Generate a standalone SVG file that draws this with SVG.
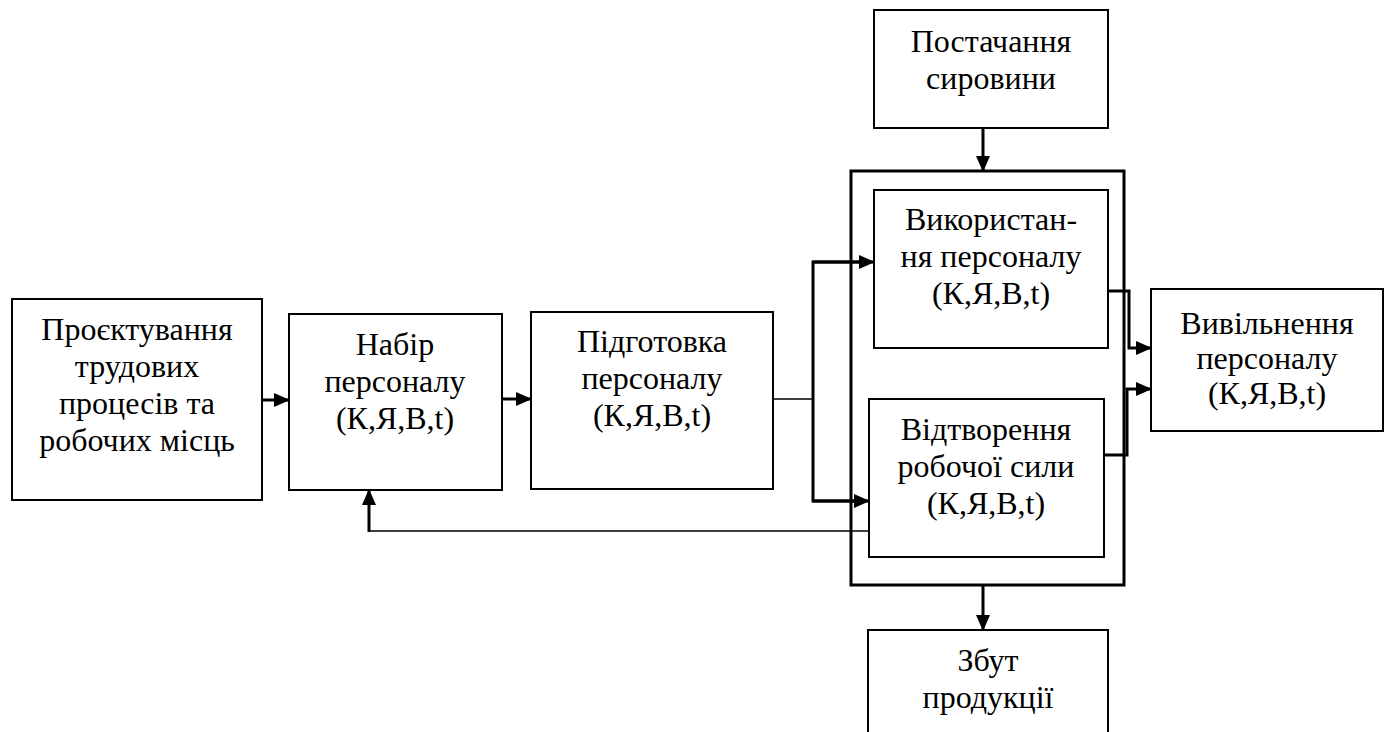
<svg xmlns="http://www.w3.org/2000/svg" width="1387" height="732" viewBox="0 0 1387 732">
<style>
.box{fill:#fff;stroke:#000;stroke-width:2}
.outer{fill:none;stroke:#000;stroke-width:3}
.thick{fill:none;stroke:#000;stroke-width:3}
.thin{fill:none;stroke:#000;stroke-width:1.5}
</style>
<defs>
<marker id="ah" markerWidth="16" markerHeight="14" refX="15" refY="7" orient="auto" markerUnits="userSpaceOnUse">
<path d="M0,0 L16,7 L0,14 Z" fill="#000"/>
</marker>
</defs>
<rect width="1387" height="732" fill="#fff"/>
<g id="outer"><rect class="outer" x="851" y="171" width="273" height="414"/></g>
<g id="n1"><rect class="box" x="12" y="299" width="250" height="201"/>
<text font-family="Liberation Serif" font-size="32" text-anchor="middle" x="137" y="340">Проєктування</text><text font-family="Liberation Serif" font-size="32" text-anchor="middle" x="137" y="377">трудових</text><text font-family="Liberation Serif" font-size="32" text-anchor="middle" x="137" y="414">процесів та</text><text font-family="Liberation Serif" font-size="32" text-anchor="middle" x="137" y="451">робочих місць</text></g>
<g id="n2"><rect class="box" x="289" y="314" width="213" height="176"/>
<text font-family="Liberation Serif" font-size="32" text-anchor="middle" x="395" y="355">Набір</text><text font-family="Liberation Serif" font-size="32" text-anchor="middle" x="395" y="392">персоналу</text><text font-family="Liberation Serif" font-size="32" text-anchor="middle" x="395" y="429">(К,Я,В,t)</text></g>
<g id="n3"><rect class="box" x="531" y="312" width="242" height="177"/>
<text font-family="Liberation Serif" font-size="32" text-anchor="middle" x="652" y="352">Підготовка</text><text font-family="Liberation Serif" font-size="32" text-anchor="middle" x="652" y="389">персоналу</text><text font-family="Liberation Serif" font-size="32" text-anchor="middle" x="652" y="426">(К,Я,В,t)</text></g>
<g id="n4"><rect class="box" x="874" y="190" width="234" height="158"/>
<text font-family="Liberation Serif" font-size="32" text-anchor="middle" x="991" y="230">Використан-</text><text font-family="Liberation Serif" font-size="32" text-anchor="middle" x="991" y="267">ня персоналу</text><text font-family="Liberation Serif" font-size="32" text-anchor="middle" x="991" y="304">(К,Я,В,t)</text></g>
<g id="n5"><rect class="box" x="869" y="399" width="235" height="158"/>
<text font-family="Liberation Serif" font-size="32" text-anchor="middle" x="986" y="440">Відтворення</text><text font-family="Liberation Serif" font-size="32" text-anchor="middle" x="986" y="477">робочої сили</text><text font-family="Liberation Serif" font-size="32" text-anchor="middle" x="986" y="514">(К,Я,В,t)</text></g>
<g id="n6"><rect class="box" x="1151" y="289" width="232" height="142"/>
<text font-family="Liberation Serif" font-size="32" text-anchor="middle" x="1267" y="334">Вивільнення</text><text font-family="Liberation Serif" font-size="32" text-anchor="middle" x="1267" y="369">персоналу</text><text font-family="Liberation Serif" font-size="32" text-anchor="middle" x="1267" y="404">(К,Я,В,t)</text></g>
<g id="n7"><rect class="box" x="874" y="10" width="234" height="118"/>
<text font-family="Liberation Serif" font-size="32" text-anchor="middle" x="991" y="52">Постачання</text><text font-family="Liberation Serif" font-size="32" text-anchor="middle" x="991" y="89">сировини</text></g>
<g id="n8"><rect class="box" x="868" y="630" width="240" height="110"/>
<text font-family="Liberation Serif" font-size="32" text-anchor="middle" x="988" y="671">Збут</text><text font-family="Liberation Serif" font-size="32" text-anchor="middle" x="988" y="708">продукції</text></g>
<g id="connectors">
<line class="thick" x1="262" y1="400" x2="289" y2="400" marker-end="url(#ah)"/>
<line class="thick" x1="502" y1="399" x2="531" y2="399" marker-end="url(#ah)"/>
<line class="thin" x1="773" y1="399" x2="813" y2="399"/>
<polyline class="thick" points="860,262 813,262 813,501 855,501"/>
<line class="thick" x1="813" y1="262" x2="874" y2="262" marker-end="url(#ah)"/>
<line class="thick" x1="813" y1="501" x2="869" y2="501" marker-end="url(#ah)"/>
<polyline class="thin" points="869,531 369,531 369,505"/>
<line class="thick" x1="369" y1="532" x2="369" y2="490" marker-end="url(#ah)"/>
<polyline class="thick" points="1108,291 1129,291 1129,348 1151,348" marker-end="url(#ah)"/>
<polyline class="thick" points="1104,455 1127,455 1127,389 1151,389" marker-end="url(#ah)"/>
<line class="thick" x1="983" y1="128" x2="983" y2="171" marker-end="url(#ah)"/>
<line class="thick" x1="983" y1="585" x2="983" y2="630" marker-end="url(#ah)"/>
</g>
</svg>
